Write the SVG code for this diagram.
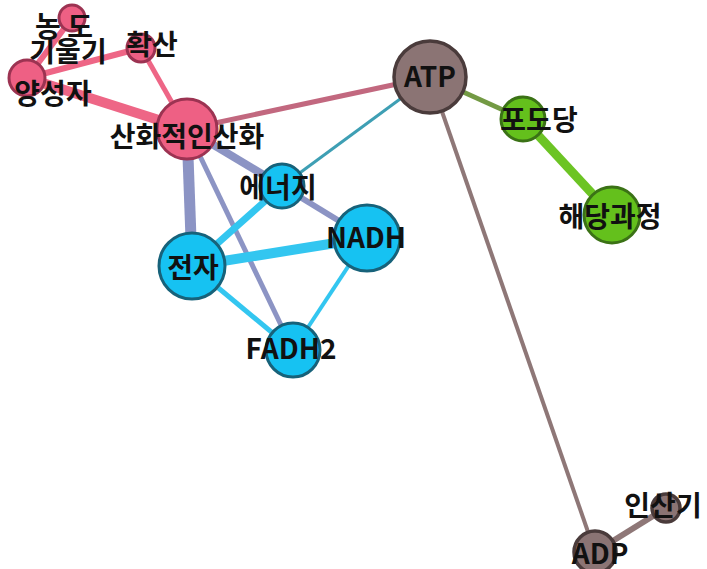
<svg xmlns="http://www.w3.org/2000/svg" width="707" height="569" viewBox="0 0 707 569">
  <style>
    .lbl { font-family: "Noto Sans CJK KR", "Malgun Gothic", sans-serif; font-size: 28px; font-weight: 700; fill: #111; text-anchor: middle; }
    .lat { font-family: "Noto Sans CJK KR", "Liberation Sans", sans-serif; font-size: 28px; font-weight: 700; fill: #111; text-anchor: middle; }
    .pink { fill: #ee6084; stroke: #9c3352; stroke-width: 3; }
    .cyan { fill: #16c2f2; stroke: #17627a; stroke-width: 3; }
    .brown { fill: #8b7474; stroke: #4a3b3b; stroke-width: 3.5; }
    .green { fill: #64c01c; stroke: #3b7216; stroke-width: 3; }
    .edges line { stroke-linecap: butt; }
  </style>
  <rect width="707" height="569" fill="#ffffff"/>

  <!-- connectors -->
  <g id="edges" class="edges">
    <line x1="72" y1="18" x2="27" y2="78" stroke="#ee6686" stroke-width="6"/>
    <line x1="27" y1="78" x2="141" y2="48" stroke="#ee6686" stroke-width="6"/>
    <line x1="141" y1="48" x2="187" y2="129" stroke="#ee6686" stroke-width="5"/>
    <line x1="27" y1="78" x2="187" y2="129" stroke="#ee6686" stroke-width="10"/>
    <line x1="187" y1="129" x2="430" y2="77" stroke="#c2687f" stroke-width="5"/>
    <line x1="430" y1="77" x2="282" y2="186" stroke="#3e9fb4" stroke-width="3"/>
    <line x1="430" y1="77" x2="523" y2="119" stroke="#739a44" stroke-width="5"/>
    <line x1="523" y1="119" x2="612" y2="215" stroke="#6cc424" stroke-width="9"/>
    <line x1="430" y1="77" x2="595" y2="552" stroke="#8e7777" stroke-width="4"/>
    <line x1="595" y1="552" x2="666" y2="508" stroke="#8e7777" stroke-width="6"/>
    <line x1="187" y1="129" x2="282" y2="186" stroke="#8c94c4" stroke-width="8"/>
    <line x1="187" y1="129" x2="192" y2="266" stroke="#8c94c4" stroke-width="11"/>
    <line x1="187" y1="129" x2="293" y2="350" stroke="#8c94c4" stroke-width="5"/>
    <line x1="282" y1="186" x2="367" y2="238" stroke="#8c94c4" stroke-width="6"/>
    <line x1="282" y1="186" x2="192" y2="266" stroke="#33c6f0" stroke-width="7"/>
    <line x1="192" y1="266" x2="367" y2="238" stroke="#33c6f0" stroke-width="10"/>
    <line x1="192" y1="266" x2="293" y2="350" stroke="#33c6f0" stroke-width="5"/>
    <line x1="367" y1="238" x2="293" y2="350" stroke="#33c6f0" stroke-width="4"/>
  </g>

  <!-- nodes -->
  <g id="node-nongdo">
    <circle class="pink" cx="72" cy="18" r="13"/>
    <text class="lbl" x="64" y="37">농 도</text>
    <text class="lbl" x="68" y="62">기울기</text>
  </g>
  <g id="node-hwaksan">
    <circle class="pink" cx="141" cy="48" r="14"/>
    <text class="lbl" x="152" y="55">확산</text>
  </g>
  <g id="node-yangseongja">
    <circle class="pink" cx="27" cy="78" r="18"/>
    <text class="lbl" x="53" y="104">양성자</text>
  </g>
  <g id="node-oxphos">
    <circle class="pink" cx="187" cy="129" r="30"/>
    <text class="lbl" x="187" y="147">산화적인산화</text>
  </g>
  <g id="node-atp">
    <circle class="brown" cx="430" cy="77" r="36"/>
    <text class="lat" x="430" y="87">ATP</text>
  </g>
  <g id="node-glucose">
    <circle class="green" cx="523" cy="119" r="22"/>
    <text class="lbl" x="539" y="130">포도당</text>
  </g>
  <g id="node-glycolysis">
    <circle class="green" cx="612" cy="215" r="28"/>
    <text class="lbl" x="610" y="227">해당과정</text>
  </g>
  <g id="node-energy">
    <circle class="cyan" cx="282" cy="186" r="22"/>
    <text class="lbl" x="278" y="198">에너지</text>
  </g>
  <g id="node-nadh">
    <circle class="cyan" cx="367" cy="238" r="33"/>
    <text class="lat" x="366" y="248">NADH</text>
  </g>
  <g id="node-electron">
    <circle class="cyan" cx="192" cy="266" r="33"/>
    <text class="lbl" x="193" y="278">전자</text>
  </g>
  <g id="node-fadh2">
    <circle class="cyan" cx="293" cy="350" r="27"/>
    <text class="lat" x="291" y="359">FADH2</text>
  </g>
  <g id="node-adp">
    <circle class="brown" cx="595" cy="552" r="21"/>
    <text class="lat" x="600" y="564">ADP</text>
  </g>
  <g id="node-phosphate">
    <circle class="brown" cx="666" cy="508" r="14"/>
    <text class="lbl" x="663" y="516">인산기</text>
  </g>
</svg>
